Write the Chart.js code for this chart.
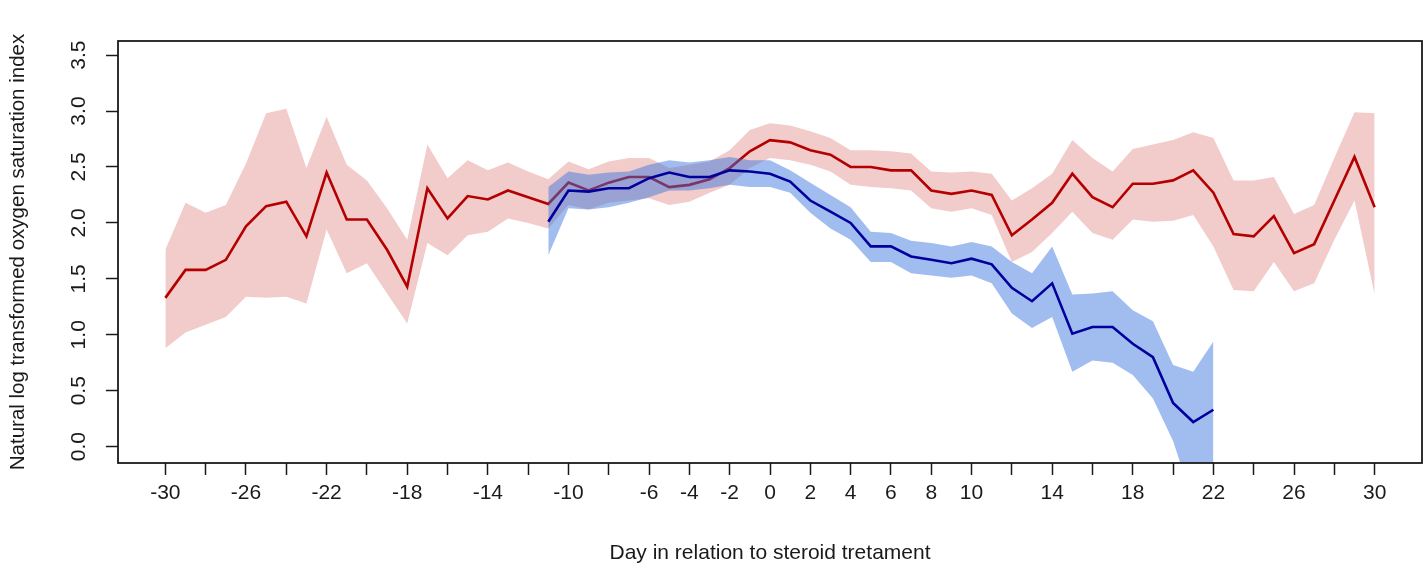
<!DOCTYPE html>
<html lang="en">
  <head>
    <meta charset="UTF-8" />
    <title>Oxygen saturation index around steroid treatment</title>
    <script src="https://cdn.jsdelivr.net/npm/chart.js@4.4.1/dist/chart.umd.min.js"></script>
    <style>
      body {
        margin: 0;
        background: #fff;
      }
    </style>
  </head>
  <body>
    <canvas id="satChart" width="1427" height="577"></canvas>
    <script>
      // days shown on the x axis (ticks every 2 days, only some labelled)
      const tickDays = [-30, -28, -26, -24, -22, -20, -18, -16, -14, -12, -10, -8, -6, -4, -2,
        0, 2, 4, 6, 8, 10, 12, 14, 16, 18, 20, 22, 24, 26, 28, 30];
      const labelDays = [-30, -26, -22, -18, -14, -10, -6, -4, -2, 0, 2, 4, 6, 8, 10, 14, 18, 22, 26, 30];
      const yTicks = [0, 0.5, 1, 1.5, 2, 2.5, 3, 3.5];

      // red group: day -30 .. 30
      const redDays = [-30, -29, -28, -27, -26, -25, -24, -23, -22, -21, -20, -19, -18, -17, -16,
        -15, -14, -13, -12, -11, -10, -9, -8, -7, -6, -5, -4, -3, -2, -1, 0, 1, 2, 3, 4, 5, 6,
        7, 8, 9, 10, 11, 12, 13, 14, 15, 16, 17, 18, 19, 20, 21, 22, 23, 24, 25, 26, 27, 28, 29, 30];
      const redMean = [1.33, 1.58, 1.58, 1.67, 1.97, 2.15, 2.19, 1.88, 2.45, 2.03, 2.03, 1.76, 1.43,
        2.31, 2.04, 2.24, 2.21, 2.29, 2.23, 2.17, 2.36, 2.29, 2.36, 2.41, 2.41, 2.32, 2.34, 2.39,
        2.49, 2.64, 2.74, 2.72, 2.65, 2.61, 2.50, 2.50, 2.47, 2.47, 2.29, 2.26, 2.29, 2.25, 1.89,
        2.03, 2.18, 2.44, 2.23, 2.14, 2.35, 2.35, 2.38, 2.47, 2.27, 1.90, 1.88, 2.06, 1.73, 1.81,
        2.20, 2.59, 2.14];
      const redUpper = [1.76, 2.18, 2.09, 2.16, 2.53, 2.98, 3.02, 2.49, 2.95, 2.52, 2.38, 2.13, 1.85,
        2.70, 2.40, 2.56, 2.47, 2.54, 2.46, 2.39, 2.55, 2.48, 2.55, 2.58, 2.58, 2.49, 2.52, 2.55,
        2.65, 2.83, 2.89, 2.87, 2.82, 2.76, 2.65, 2.65, 2.64, 2.62, 2.46, 2.45, 2.46, 2.44, 2.20,
        2.31, 2.44, 2.74, 2.58, 2.46, 2.66, 2.70, 2.74, 2.81, 2.76, 2.38, 2.38, 2.41, 2.08, 2.16,
        2.58, 2.99, 2.98];
      const redLower = [0.88, 1.02, 1.09, 1.16, 1.34, 1.33, 1.34, 1.28, 1.94, 1.55, 1.64, 1.37, 1.10,
        1.82, 1.71, 1.89, 1.92, 2.04, 2.00, 1.95, 2.16, 2.12, 2.18, 2.20, 2.22, 2.16, 2.19, 2.27,
        2.34, 2.49, 2.58, 2.56, 2.52, 2.46, 2.34, 2.32, 2.31, 2.29, 2.13, 2.10, 2.13, 2.07, 1.65,
        1.74, 1.91, 2.10, 1.91, 1.85, 2.03, 2.01, 2.02, 2.07, 1.79, 1.40, 1.39, 1.65, 1.39, 1.46,
        1.85, 2.20, 1.36];

      // blue group: day -11 .. 22
      const blueDays = [-11, -10, -9, -8, -7, -6, -5, -4, -3, -2, -1, 0, 1, 2, 3, 4, 5, 6, 7, 8,
        9, 10, 11, 12, 13, 14, 15, 16, 17, 18, 19, 20, 21, 22];
      const blueMean = [2.01, 2.29, 2.28, 2.31, 2.31, 2.40, 2.45, 2.41, 2.41, 2.47, 2.46, 2.44, 2.37,
        2.20, 2.10, 2.00, 1.79, 1.79, 1.70, 1.67, 1.64, 1.68, 1.63, 1.42, 1.30, 1.46, 1.01, 1.07,
        1.07, 0.92, 0.80, 0.39, 0.22, 0.33];
      const blueUpper = [2.32, 2.46, 2.43, 2.45, 2.46, 2.52, 2.56, 2.54, 2.56, 2.59, 2.56, 2.56, 2.47,
        2.36, 2.25, 2.14, 1.92, 1.91, 1.84, 1.82, 1.79, 1.83, 1.79, 1.65, 1.55, 1.79, 1.36, 1.37,
        1.39, 1.22, 1.12, 0.73, 0.67, 0.94];
      const blueLower = [1.71, 2.13, 2.12, 2.14, 2.18, 2.23, 2.29, 2.29, 2.31, 2.34, 2.32, 2.32, 2.27,
        2.09, 1.95, 1.85, 1.65, 1.65, 1.55, 1.53, 1.51, 1.53, 1.46, 1.19, 1.06, 1.16, 0.67, 0.77,
        0.75, 0.64, 0.43, 0.05, -0.50, -0.30];

      function pts(days, vals) {
        return days.map((d, i) => ({ x: d, y: vals[i] }));
      }

      const fontFamily = "'Liberation Sans', Arial, sans-serif";
      const ink = "#1a1a1a";

      // R-style box around the plot + vertical y tick labels
      const framePlugin = {
        id: "frame",
        afterDraw(chart) {
          const { ctx, chartArea: a, scales } = chart;
          ctx.save();
          ctx.strokeStyle = ink;
          ctx.lineWidth = 1.8;
          ctx.strokeRect(a.left, a.top, a.right - a.left, a.bottom - a.top);
          ctx.fillStyle = ink;
          ctx.font = "21px " + fontFamily;
          ctx.textAlign = "center";
          ctx.textBaseline = "middle";
          yTicks.forEach(v => {
            const y = scales.y.getPixelForValue(v);
            ctx.save();
            ctx.translate(79, y);
            ctx.rotate(-Math.PI / 2);
            ctx.fillText(v.toFixed(1), 0, 0);
            ctx.restore();
          });
          ctx.restore();
        }
      };

      const lineBase = { pointRadius: 0, tension: 0, showLine: true };

      new Chart(document.getElementById("satChart"), {
        type: "line",
        data: {
          datasets: [
            Object.assign({}, lineBase, {
              label: "blue mean", data: pts(blueDays, blueMean),
              borderColor: "#00009c", borderWidth: 2.6, fill: false, order: 0
            }),
            Object.assign({}, lineBase, {
              label: "blue upper", data: pts(blueDays, blueUpper),
              borderWidth: 0, borderColor: "rgba(0,0,0,0)", fill: "+1",
              backgroundColor: "rgba(55,115,220,0.47)", order: 1
            }),
            Object.assign({}, lineBase, {
              label: "blue lower", data: pts(blueDays, blueLower),
              borderWidth: 0, borderColor: "rgba(0,0,0,0)", fill: false, order: 2
            }),
            Object.assign({}, lineBase, {
              label: "red mean", data: pts(redDays, redMean),
              borderColor: "#b40000", borderWidth: 2.6, fill: false, order: 3
            }),
            Object.assign({}, lineBase, {
              label: "red upper", data: pts(redDays, redUpper),
              borderWidth: 0, borderColor: "rgba(0,0,0,0)", fill: "+1",
              backgroundColor: "#f2cbcb", order: 4
            }),
            Object.assign({}, lineBase, {
              label: "red lower", data: pts(redDays, redLower),
              borderWidth: 0, borderColor: "rgba(0,0,0,0)", fill: false, order: 5
            })
          ]
        },
        options: {
          responsive: false,
          animation: false,
          layout: { padding: { top: 41, right: 5, left: 0, bottom: 0 } },
          plugins: {
            legend: { display: false },
            tooltip: { enabled: false },
            filler: { propagate: false }
          },
          scales: {
            x: {
              type: "linear",
              min: -32.35,
              max: 32.35,
              afterBuildTicks: s => { s.ticks = tickDays.map(v => ({ value: v })); },
              afterFit: s => { s.height = 114; },
              border: { display: false },
              grid: {
                drawOnChartArea: false,
                drawTicks: true,
                tickLength: 12,
                tickWidth: 1.5,
                tickColor: ink
              },
              ticks: {
                autoSkip: false,
                maxRotation: 0,
                padding: 6,
                color: ink,
                font: { family: fontFamily, size: 21 },
                callback: v => (labelDays.includes(v) ? String(v) : "")
              },
              title: {
                display: true,
                text: "Day in relation to steroid tretament",
                color: ink,
                font: { family: fontFamily, size: 21 },
                padding: { top: 0, bottom: 11 }
              }
            },
            y: {
              type: "linear",
              min: -0.146,
              max: 3.626,
              afterBuildTicks: s => { s.ticks = yTicks.map(v => ({ value: v })); },
              afterFit: s => { s.width = 118; },
              border: { display: false },
              grid: {
                drawOnChartArea: false,
                drawTicks: true,
                tickLength: 12,
                tickWidth: 1.5,
                tickColor: ink
              },
              ticks: { display: false },
              title: {
                display: true,
                text: "Natural log transformed oxygen saturation index",
                color: ink,
                font: { family: fontFamily, size: 20.5 },
                padding: { top: 6, bottom: 0 }
              }
            }
          }
        },
        plugins: [framePlugin]
      });
    </script>
  </body>
</html>
